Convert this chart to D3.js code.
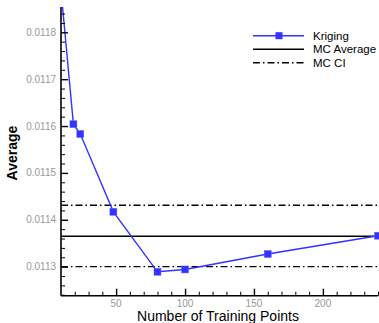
<!DOCTYPE html>
<html>
<head>
<meta charset="utf-8">
<script src="https://cdn.jsdelivr.net/npm/d3@7"></script>
<style>
  body { margin: 0; background: #fff; }
  text { font-family: "Liberation Sans", Arial, sans-serif; }
</style>
</head>
<body>
<div id="chart"></div>
<script>
// training points vs kriging average
var trainPts = [10, 19, 24, 48, 80, 100, 160, 240]
var krigAvg = [0.01189, 0.011604, 0.011583, 0.011417, 0.011289, 0.011294, 0.011327, 0.011366]
var mcAverage = 0.011365
var mcCI = [0.0113, 0.011431]
var yMajor = [0.0113, 0.0114, 0.0115, 0.0116, 0.0117, 0.0118]
var xMajor = [50, 100, 150, 200]
var legendNames = ['Kriging', 'MC Average', 'MC CI']

var W = 379, H = 323
// note: "top" clashes with window.top, so use other names
var padL = 61, padR = 378, padT = 7, padB = 295.7

var svg = d3.select('#chart').append('svg')
  .attr('width', W)
  .attr('height', H)

var x = d3.scaleLinear().domain([10, 240]).range([padL, padR])
var y = d3.scaleLinear().domain([0.011238, 0.011854]).range([padB, padT])

svg.append('clipPath').attr('id', 'clip')
  .append('rect')
  .attr('x', padL).attr('y', padT)
  .attr('width', padR - padL + 4).attr('height', padB - padT)

var plot = svg.append('g').attr('clip-path', 'url(#clip)')

// MC lines
plot.append('line')
  .attr('x1', padL).attr('x2', padR + 2)
  .attr('y1', y(mcAverage)).attr('y2', y(mcAverage))
  .attr('stroke', '#000').attr('stroke-width', 1.4)

mcCI.forEach(function (v) {
  plot.append('line')
    .attr('x1', padL).attr('x2', padR + 2)
    .attr('y1', y(v)).attr('y2', y(v))
    .attr('stroke', '#000').attr('stroke-width', 1.4)
    .attr('stroke-dasharray', '7,3,1.5,3')
})

var line = d3.line()
  .x(function (d, i) { return x(trainPts[i]) })
  .y(function (d) { return y(d) })

plot.append('path')
  .datum(krigAvg)
  .attr('d', line)
  .attr('fill', 'none')
  .attr('stroke', '#3333ff')
  .attr('stroke-width', 1.4)

plot.selectAll('rect.pt')
  .data(krigAvg)
  .enter().append('rect')
  .attr('class', 'pt')
  .attr('x', function (d, i) { return x(trainPts[i]) - 3.5 })
  .attr('y', function (d) { return y(d) - 3.5 })
  .attr('width', 7).attr('height', 7)
  .attr('fill', '#3333ff')
  .attr('stroke', '#6666ff')
  .attr('stroke-width', 0.5)

// y axis
var yMinor = d3.range(0.01124, 0.011855, 0.00002).filter(function (v) {
  return !yMajor.some(function (m) { return Math.abs(m - v) < 1e-9 })
})
svg.append('g')
  .attr('transform', 'translate(' + padL + ',0)')
  .call(d3.axisRight(y).tickValues(yMajor).tickSize(7).tickFormat(''))
  .call(function (g) {
    g.select('.domain').remove()
    g.selectAll('line').attr('stroke', '#000').attr('stroke-width', 1.4)
  })
svg.append('g')
  .attr('transform', 'translate(' + padL + ',0)')
  .call(d3.axisRight(y).tickValues(yMinor).tickSize(4).tickFormat(''))
  .call(function (g) {
    g.select('.domain').remove()
    g.selectAll('line').attr('stroke', '#000').attr('stroke-width', 1)
  })
svg.selectAll('text.ylab')
  .data(yMajor)
  .enter().append('text')
  .attr('class', 'ylab')
  .attr('x', padL - 5)
  .attr('y', function (d) { return y(d) + 3.5 })
  .attr('text-anchor', 'end')
  .attr('font-size', 10)
  .attr('fill', '#999')
  .text(function (d) { return d3.format('.4f')(d) })

// x axis
var xMinor = d3.range(20, 241, 10).filter(function (v) { return v % 50 !== 0 })
svg.append('g')
  .attr('transform', 'translate(0,' + padB + ')')
  .call(d3.axisTop(x).tickValues(xMajor).tickSize(7).tickFormat(''))
  .call(function (g) {
    g.select('.domain').remove()
    g.selectAll('line').attr('stroke', '#000').attr('stroke-width', 1.4)
  })
svg.append('g')
  .attr('transform', 'translate(0,' + padB + ')')
  .call(d3.axisTop(x).tickValues(xMinor).tickSize(4).tickFormat(''))
  .call(function (g) {
    g.select('.domain').remove()
    g.selectAll('line').attr('stroke', '#000').attr('stroke-width', 1)
  })
svg.selectAll('text.xlab')
  .data(xMajor)
  .enter().append('text')
  .attr('class', 'xlab')
  .attr('x', function (d) { return x(d) })
  .attr('y', 307)
  .attr('text-anchor', 'middle')
  .attr('font-size', 10)
  .attr('fill', '#999')
  .text(function (d) { return d })

// axis lines
svg.append('line')
  .attr('x1', padL).attr('x2', padL).attr('y1', padT).attr('y2', padB)
  .attr('stroke', '#000').attr('stroke-width', 1.6)
svg.append('line')
  .attr('x1', padL).attr('x2', padR).attr('y1', padB).attr('y2', padB)
  .attr('stroke', '#000').attr('stroke-width', 1.6)

// titles
svg.append('text')
  .attr('x', 218).attr('y', 321)
  .attr('text-anchor', 'middle')
  .attr('font-size', 14)
  .text('Number of Training Points')
svg.append('text')
  .attr('transform', 'translate(17,153) rotate(-90)')
  .attr('text-anchor', 'middle')
  .attr('font-size', 14)
  .attr('font-weight', 'bold')
  .text('Average')

// legend
var legY = [35.7, 49.3, 62.7]
var lg = svg.append('g')
legendNames.forEach(function (name, i) {
  var l = lg.append('line')
    .attr('x1', 253).attr('x2', 304)
    .attr('y1', legY[i]).attr('y2', legY[i])
    .attr('stroke', i === 0 ? '#3333ff' : '#000')
    .attr('stroke-width', 1.4)
  if (i === 2) l.attr('stroke-dasharray', '7,3,1.5,3')
  if (i === 0) {
    lg.append('rect')
      .attr('x', 279 - 3.5).attr('y', legY[i] - 3.5)
      .attr('width', 7).attr('height', 7)
      .attr('fill', '#3333ff')
  }
  lg.append('text')
    .attr('x', 313).attr('y', legY[i] + 4)
    .attr('font-size', 11.5)
    .text(name)
})
</script>
</body>
</html>
